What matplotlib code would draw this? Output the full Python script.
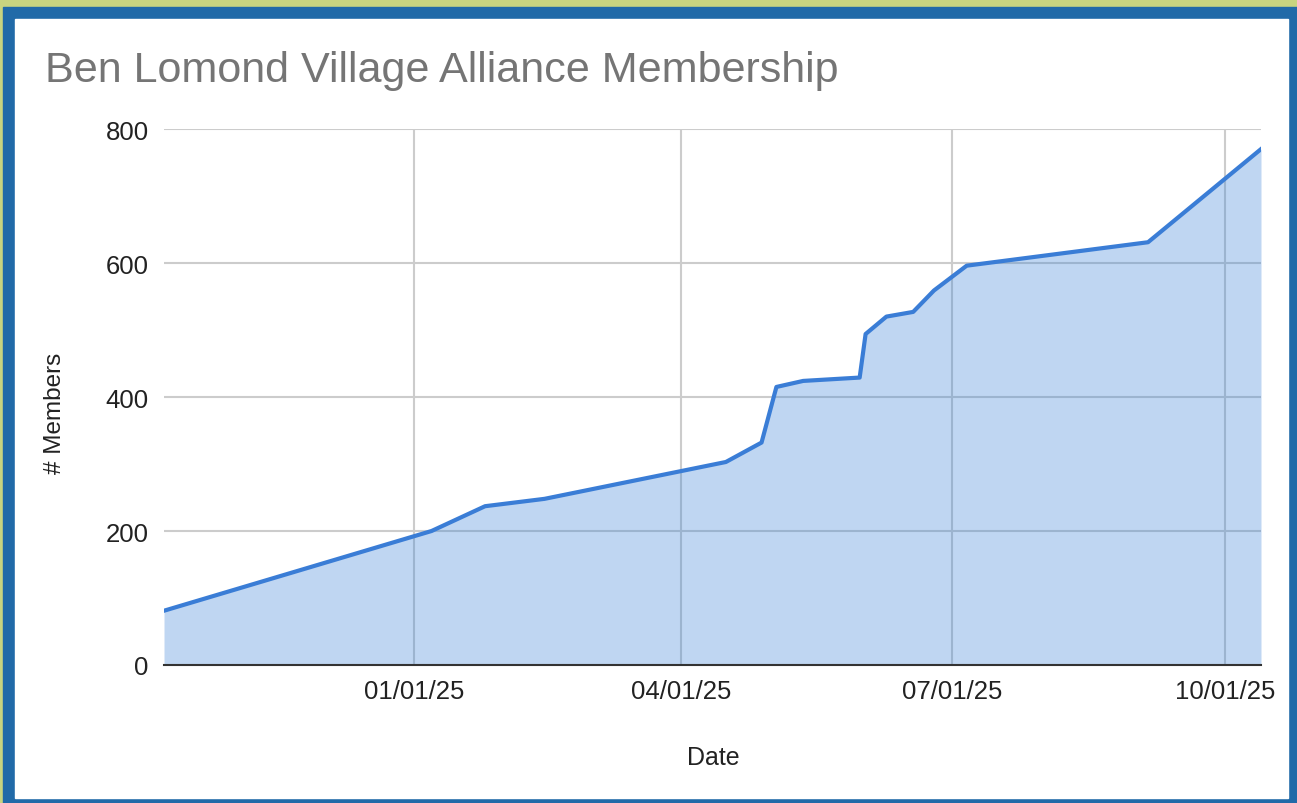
import matplotlib
matplotlib.use("Agg")
import matplotlib.pyplot as plt
import matplotlib.dates as mdates
from matplotlib.patches import Rectangle
import pandas as pd

plt.rcParams['font.family'] = ['Liberation Sans', 'DejaVu Sans']

# membership counts
dates = ["2024-10-09", "2025-01-07", "2025-01-25", "2025-02-14", "2025-04-16",
         "2025-04-28", "2025-05-03", "2025-05-12", "2025-05-31", "2025-06-02",
         "2025-06-09", "2025-06-18", "2025-06-25", "2025-07-06", "2025-09-05",
         "2025-10-13"]
members = [81, 200, 237, 248, 303, 332, 415, 424, 429, 494,
           520, 527, 559, 596, 631, 770]
tick_dates = ["2025-01-01", "2025-04-01", "2025-07-01", "2025-10-01"]
y_ticks = [0, 200, 400, 600, 800]

x = pd.to_datetime(dates)
W, H = 1297, 804
fig = plt.figure(figsize=(W / 100, H / 100), dpi=100)
fig.patch.set_facecolor('white')

# frame: olive band, blue border, white card
fig.patches.append(Rectangle((0, 0), 1, 1, transform=fig.transFigure,
                             color='#c8d480', zorder=-3))
fig.patches.append(Rectangle((3 / W, 0), 1 - 3 / W, 1 - 8 / H, transform=fig.transFigure,
                             color='#216aa8', zorder=-2))
fig.patches.append(Rectangle((15 / W, 5 / H), (1288 - 15) / W, (799 - 20) / H,
                             transform=fig.transFigure, color='white', zorder=-1))

ax = fig.add_axes([164 / W, (H - 666) / H, (1261 - 164) / W, (666 - 130) / H])
ax.fill_between(x, members, 0, color='#3d85d8', alpha=0.33, linewidth=0, zorder=2)
ax.plot(x, members, color='#3a7dd6', linewidth=3, zorder=3)

ax.set_xlim(pd.Timestamp("2024-10-09"), pd.Timestamp("2025-10-13"))
ax.set_ylim(0, 800)
ax.set_yticks(y_ticks)
ax.set_xticks(pd.to_datetime(tick_dates))
ax.xaxis.set_major_formatter(mdates.DateFormatter('%m/%d/%y'))
ax.grid(True, color='#cccccc', linewidth=1.5, zorder=1)
ax.set_axisbelow(True)
for s in ['top', 'right', 'left']:
    ax.spines[s].set_visible(False)
ax.spines['bottom'].set_color('#333333')
ax.spines['bottom'].set_linewidth(1.5)
ax.spines['bottom'].set_zorder(4)
ax.tick_params(length=0, labelsize=18.5, labelcolor='#222222')
ax.tick_params(axis='y', pad=11)
ax.tick_params(axis='x', pad=10)

ax.set_xlabel('Date', fontsize=18, color='#222222')
ax.xaxis.set_label_coords((713 - 164) / 1097, -(746 - 666) / 536)
ax.set_ylabel('# Members', fontsize=17.5, color='#222222')
ax.yaxis.set_label_coords(-(164 - 66) / 1097, (666 - 413) / 536)

fig.text(45 / W, 1 - 71 / H, 'Ben Lomond Village Alliance Membership',
         fontsize=31.1, color='#757575', va='center', ha='left')

fig.savefig('out.png', dpi=100)
